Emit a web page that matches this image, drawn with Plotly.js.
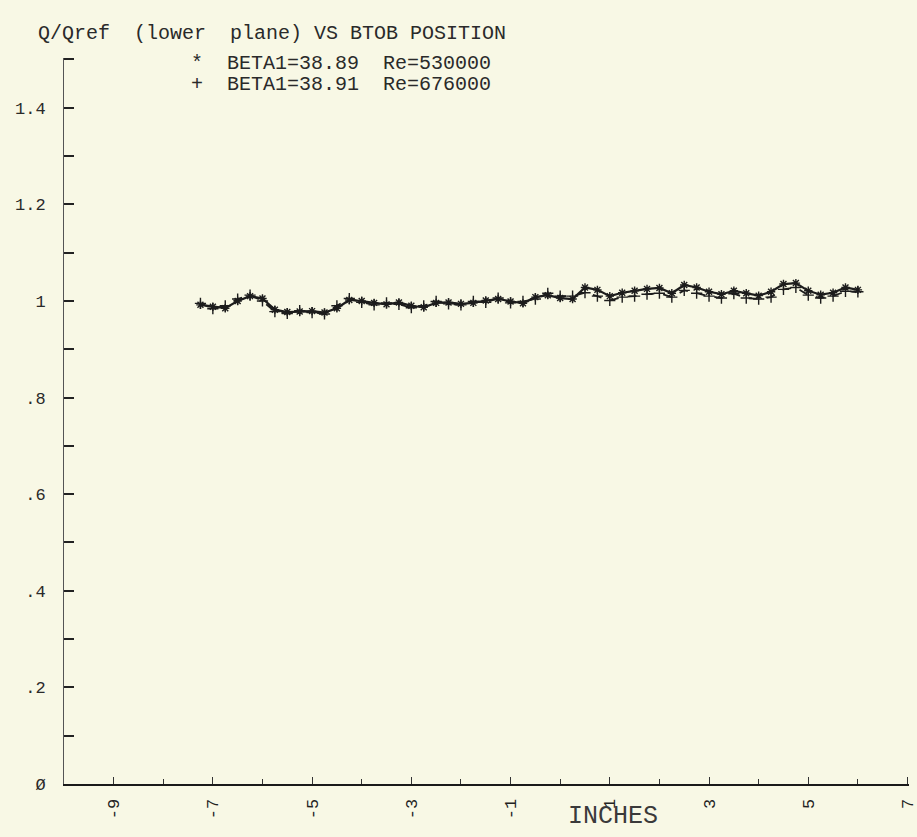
<!DOCTYPE html>
<html>
<head>
<meta charset="utf-8">
<script src="https://cdn.plot.ly/plotly-3.0.1.min.js"></script>
<style>
  html, body { margin: 0; padding: 0; background: #f8f8e5; }
  #chart { width: 917px; height: 837px; }
</style>
</head>
<body>
<div id="chart"></div>
<script>
// Position along the blade-to-blade (BTOB) traverse, inches
const positions = [-7.25,-7.00,-6.75,-6.50,-6.25,-6.00,-5.75,-5.50,-5.25,-5.00,-4.75,-4.50,-4.25,-4.00,-3.75,-3.50,-3.25,-3.00,-2.75,-2.50,-2.25,-2.00,-1.75,-1.50,-1.25,-1.00,-0.75,-0.50,-0.25,0.00,0.25,0.50,0.75,1.00,1.25,1.50,1.75,2.00,2.25,2.50,2.75,3.00,3.25,3.50,3.75,4.00,4.25,4.50,4.75,5.00,5.25,5.50,5.75,6.00];

// Q/Qref, BETA1=38.89, Re=530000  (marker *)
const qBeta3889 = [0.992,0.988,0.985,1.000,1.010,1.005,0.982,0.977,0.978,0.979,0.976,0.985,1.002,1.000,0.996,0.993,0.997,0.990,0.987,0.996,0.997,0.994,0.996,1.001,1.004,0.999,0.995,1.008,1.012,1.006,1.004,1.028,1.023,1.010,1.017,1.021,1.025,1.027,1.016,1.033,1.028,1.019,1.014,1.021,1.016,1.011,1.019,1.035,1.037,1.021,1.013,1.017,1.028,1.023];

// Q/Qref, BETA1=38.91, Re=676000  (marker +)
const qBeta3891 = [0.995,0.984,0.990,1.004,1.012,1.000,0.978,0.974,0.980,0.976,0.973,0.990,1.005,0.997,0.992,0.996,0.993,0.986,0.990,0.999,0.994,0.992,0.999,0.997,1.006,0.996,0.999,1.004,1.016,1.010,1.010,1.017,1.010,1.001,1.008,1.010,1.014,1.016,1.008,1.022,1.016,1.010,1.006,1.015,1.006,1.004,1.008,1.024,1.028,1.012,1.006,1.010,1.020,1.019];

const seriesNames = ["BETA1=38.89  Re=530000", "BETA1=38.91  Re=676000"];

const xTickVals = [-9, -7, -5, -3, -1, 1, 3, 5, 7];
const xTickText = ["-9", "-7", "-5", "-3", "-1", "1", "3", "5", "7"];
const yTickVals = [0, 0.2, 0.4, 0.6, 0.8, 1.0, 1.2, 1.4];
const yTickText = ["Ø", ".2", ".4", ".6", ".8", "1", "1.2", "1.4"];

const ink = "#1c1c1c";
const mono = "Liberation Mono, DejaVu Sans Mono, monospace";
const nb = s => s.replace(/ /g, "\u00a0");

const traces = [
  {
    x: positions, y: qBeta3889, name: seriesNames[0],
    type: "scatter", mode: "lines+markers",
    line: { color: ink, width: 2.2 },
    marker: { symbol: "asterisk-open", size: 7, color: ink, line: { color: ink, width: 1.4 } }
  },
  {
    x: positions, y: qBeta3891, name: seriesNames[1],
    type: "scatter", mode: "lines+markers",
    line: { color: ink, width: 1.8, dash: "dash" },
    marker: { symbol: "cross-thin-open", size: 8, color: ink, line: { color: ink, width: 1.4 } }
  }
];

const layout = {
  width: 917, height: 837,
  paper_bgcolor: "#f8f8e5",
  plot_bgcolor: "#f8f8e5",
  margin: { l: 64, r: 8, t: 58, b: 53 },
  showlegend: false,
  font: { family: mono, color: "#2a2a2a" },
  title: {
    text: nb("Q/Qref  (lower  plane) VS BTOB POSITION"),
    xref: "container", yref: "container",
    x: 38 / 917, xanchor: "left",
    y: 1 - 32 / 837, yanchor: "middle",
    font: { family: mono, size: 20, color: "#2a2a2a" }
  },
  xaxis: {
    range: [-10, 7.03],
    showgrid: false, zeroline: false,
    showline: true, linecolor: "#1a1a1a", linewidth: 2,
    ticks: "inside", ticklen: 7, tickwidth: 1, tickcolor: "#333",
    tickmode: "array", tickvals: xTickVals, ticktext: xTickText,
    tickangle: -90,
    ticklabelstandoff: 6,
    ticklabeloverflow: "allow",
    tickfont: { family: mono, size: 17, color: "#222" },
    minor: { dtick: 1, ticks: "inside", ticklen: 5, tickcolor: "#333", showgrid: false }
  },
  yaxis: {
    range: [0, 1.503],
    showgrid: false, zeroline: false,
    showline: true, linecolor: "#555", linewidth: 1,
    ticks: "inside", ticklen: 10, tickwidth: 2, tickcolor: "#222",
    tickmode: "array", tickvals: yTickVals, ticktext: yTickText,
    ticklabelstandoff: 14,
    tickfont: { family: mono, size: 17, color: "#2a2a2a" },
    minor: { dtick: 0.1, ticks: "inside", ticklen: 10, tickwidth: 2, tickcolor: "#222", showgrid: false }
  },
  annotations: [
    {
      text: nb("INCHES"), xref: "x", yref: "paper",
      x: 1.07, y: 0, xanchor: "center", yanchor: "middle", yshift: -32,
      showarrow: false, font: { family: mono, size: 25, color: "#3a3a3a" }
    },
    {
      text: nb("*  " + seriesNames[0]), xref: "paper", yref: "paper",
      x: (189 - 64) / 845, y: (784 - 63) / 726, xanchor: "left", yanchor: "middle",
      showarrow: false, font: { family: mono, size: 20, color: "#2a2a2a" }
    },
    {
      text: nb("+  " + seriesNames[1]), xref: "paper", yref: "paper",
      x: (189 - 64) / 845, y: (784 - 84) / 726, xanchor: "left", yanchor: "middle",
      showarrow: false, font: { family: mono, size: 20, color: "#2a2a2a" }
    }
  ]
};

Plotly.newPlot("chart", traces, layout, { displayModeBar: false, staticPlot: true });
</script>
</body>
</html>
